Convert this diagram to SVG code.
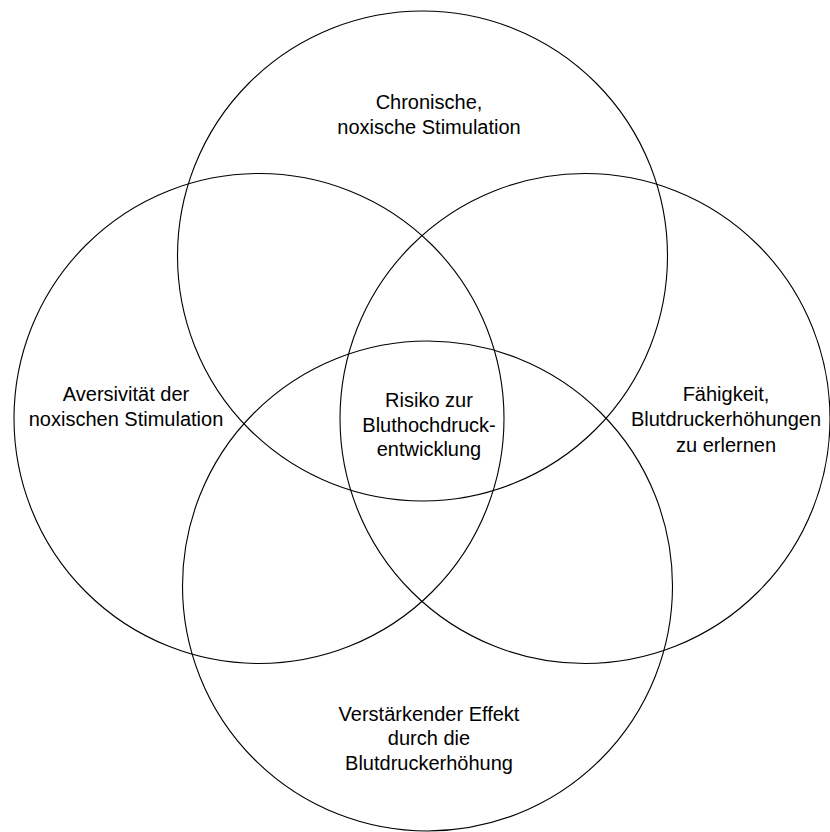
<svg xmlns="http://www.w3.org/2000/svg" width="830" height="832" viewBox="0 0 830 832">
<style>
.c{fill:none;stroke:#000;stroke-width:1.1}
.t{font-family:"Liberation Sans",Arial,sans-serif;font-size:20px;fill:#000;text-anchor:middle}
</style>
<rect width="830" height="832" fill="#fff"/>
<g id="top">
<circle class="c" cx="422.5" cy="256" r="245"/>
<text class="t" x="429" y="109">Chronische,</text>
<text class="t" x="429" y="134">noxische Stimulation</text>
</g>
<g id="left">
<circle class="c" cx="259" cy="418.5" r="245"/>
<text class="t" x="126" y="401">Aversivität der</text>
<text class="t" x="126" y="426">noxischen Stimulation</text>
</g>
<g id="right">
<circle class="c" cx="585" cy="418.5" r="245"/>
<text class="t" x="726" y="401">Fähigkeit,</text>
<text class="t" x="726" y="426">Blutdruckerhöhungen</text>
<text class="t" x="726" y="451.5">zu erlernen</text>
</g>
<g id="bottom">
<circle class="c" cx="427.5" cy="586" r="245"/>
<text class="t" x="429" y="720.5">Verstärkender Effekt</text>
<text class="t" x="429" y="745">durch die</text>
<text class="t" x="429" y="770">Blutdruckerhöhung</text>
</g>
<g id="center">
<text class="t" x="429" y="406.5">Risiko zur</text>
<text class="t" x="429" y="431.5">Bluthochdruck-</text>
<text class="t" x="429" y="456">entwicklung</text>
</g>
<g id="connectors"/>
</svg>
